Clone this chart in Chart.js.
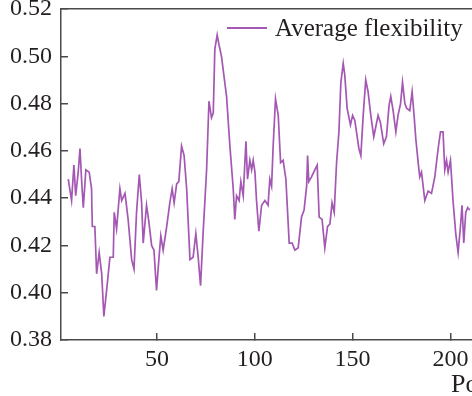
<!DOCTYPE html>
<html>
<head>
<meta charset="utf-8">
<script src="https://cdn.jsdelivr.net/npm/chart.js@4/dist/chart.umd.min.js"></script>
<style>
  html, body { margin: 0; padding: 0; background: #fff; overflow: hidden; }
  canvas { display: block; }
</style>
</head>
<body>
<canvas id="flexChart" width="472" height="396"></canvas>
<script>
const seriesLabel = "Average flexibility";

const positions = [
    4.7, 6.4, 7.6, 8.5, 9.8, 10.7, 11.5, 12.4, 13.7, 15.4,
    16.6, 17.0, 18.3, 19.2, 20.5, 21.8, 22.9, 24.3, 26.0, 27.7,
    28.2, 29.4, 31.1, 32.0, 33.7, 35.3, 37.1, 38.3, 39.6, 41.0,
    42.2, 43.0, 44.7, 45.9, 47.3, 48.5, 49.8, 51.0, 52.0, 53.2,
    55.0, 56.6, 57.8, 58.8, 60.1, 61.2, 62.6, 63.9, 65.2, 66.9,
    68.5, 69.9, 71.1, 72.3, 73.6, 75.4, 76.6, 77.9, 78.8, 79.6,
    80.8, 81.7, 83.0, 85.6, 87.3, 89.0, 89.8, 90.7, 92.0, 92.9,
    94.1, 95.5, 96.3, 97.5, 98.4, 99.2, 100.1, 100.9, 102.1, 103.5,
    105.2, 106.8, 107.7, 108.6, 109.4, 110.6, 112.0, 113.2, 114.5, 115.9,
    117.6, 119.1, 120.5, 122.2, 123.9, 125.2, 126.5, 127.0, 127.6, 129.0,
    130.7, 131.9, 132.9, 134.4, 135.8, 137.2, 138.4, 139.5, 140.6, 141.8,
    143.0, 144.0, 145.2, 146.0, 147.2, 148.9, 150.0, 151.1, 153.2, 154.2,
    155.4, 156.7, 157.9, 159.3, 160.8, 161.8, 163.0, 164.2, 165.9, 167.3,
    168.6, 169.5, 170.7, 172.1, 173.2, 174.5, 175.5, 176.7, 177.6, 179.2,
    180.4, 181.4, 182.3, 183.5, 184.3, 185.2, 186.9, 188.6, 190.3, 192.0,
    193.7, 194.9, 196.2, 197.1, 198.0, 198.8, 200.0, 201.3, 202.7, 203.9,
    205.1, 205.9, 206.8, 207.8, 208.8, 209.9
];

const flexibility = [
    0.448, 0.439, 0.454, 0.441, 0.451, 0.461, 0.448, 0.436, 0.452, 0.451,
    0.444, 0.428, 0.428, 0.408, 0.417, 0.408, 0.390, 0.401, 0.415, 0.415,
    0.434, 0.427, 0.444, 0.439, 0.442, 0.431, 0.414, 0.410, 0.434, 0.450,
    0.438, 0.421, 0.437, 0.430, 0.420, 0.418, 0.401, 0.414, 0.424, 0.418,
    0.428, 0.438, 0.444, 0.438, 0.446, 0.447, 0.462, 0.458, 0.444, 0.414,
    0.415, 0.425, 0.415, 0.403, 0.425, 0.452, 0.481, 0.474, 0.476, 0.503,
    0.509, 0.505, 0.500, 0.483, 0.462, 0.444, 0.431, 0.441, 0.439, 0.447,
    0.441, 0.464, 0.448, 0.456, 0.452, 0.456, 0.451, 0.439, 0.426, 0.437,
    0.439, 0.437, 0.448, 0.445, 0.462, 0.482, 0.475, 0.455, 0.456, 0.448,
    0.421, 0.421, 0.418, 0.419, 0.432, 0.435, 0.445, 0.458, 0.447, 0.449,
    0.452, 0.454, 0.432, 0.431, 0.419, 0.428, 0.429, 0.438, 0.434, 0.455,
    0.468, 0.489, 0.497, 0.492, 0.478, 0.471, 0.475, 0.473, 0.461, 0.458,
    0.475, 0.490, 0.485, 0.475, 0.466, 0.470, 0.475, 0.472, 0.463, 0.466,
    0.479, 0.483, 0.477, 0.468, 0.475, 0.480, 0.489, 0.480, 0.478, 0.477,
    0.485, 0.475, 0.465, 0.455, 0.449, 0.451, 0.439, 0.443, 0.442, 0.449,
    0.461, 0.468, 0.468, 0.452, 0.456, 0.451, 0.456, 0.439, 0.425, 0.417,
    0.428, 0.437, 0.421, 0.434, 0.436, 0.435
];

const xTicks = [50, 100, 150, 200];
const yTicks = [0.38, 0.40, 0.42, 0.44, 0.46, 0.48, 0.50, 0.52];
const xTitle = "Position";

const lineColor = "#a457b3";
const inkColor = "#231f20";
const axisColor = "#4a4a4a";
const serif = "'Liberation Serif', 'Times New Roman', serif";

// legend sits inside the plot, and the axis title is cut off by the right edge
const insideLegend = {
    id: "insideLegend",
    afterDraw(chart) {
        const { ctx, chartArea } = chart;
        const ds = chart.data.datasets[0];
        const x0 = chartArea.left + 166;
        ctx.save();
        ctx.strokeStyle = ds.borderColor;
        ctx.lineWidth = 2;
        ctx.beginPath();
        ctx.moveTo(x0, chartArea.top + 19);
        ctx.lineTo(x0 + 40, chartArea.top + 19);
        ctx.stroke();
        ctx.fillStyle = inkColor;
        ctx.textBaseline = "alphabetic";
        ctx.font = "25px " + serif;
        ctx.fillText(ds.label, x0 + 48, chartArea.top + 27);
        ctx.font = "26px " + serif;
        ctx.fillText(xTitle, chartArea.right - 21, chart.height - 4);
        ctx.restore();
    },
};

new Chart(document.getElementById("flexChart"), {
    type: "line",
    data: {
        datasets: [
            {
                label: seriesLabel,
                data: positions.map((p, i) => ({ x: p, y: flexibility[i] })),
                borderColor: lineColor,
                borderWidth: 1.7,
                pointRadius: 0,
                tension: 0,
                fill: false,
            },
        ],
    },
    options: {
        responsive: false,
        animation: false,
        layout: { padding: { top: 9, right: 0, left: 0, bottom: 0 } },
        plugins: {
            legend: { display: false },
            tooltip: { enabled: false },
        },
        scales: {
            x: {
                type: "linear",
                min: 1,
                max: 211,
                afterBuildTicks: (s) => { s.ticks = xTicks.map((v) => ({ value: v })); },
                afterFit: (s) => { s.height = 56; s.paddingLeft = 0; s.paddingRight = 0; },
                grid: { drawOnChartArea: false, tickLength: -7, color: axisColor, lineWidth: 1.5 },
                border: { color: axisColor, width: 1.5 },
                ticks: {
                    padding: 12,
                    maxRotation: 0,
                    color: inkColor,
                    font: { family: serif, size: 24 },
                },
            },
            x2: {
                type: "linear",
                position: "top",
                min: 1,
                max: 211,
                afterFit: (s) => { s.height = 0; s.paddingLeft = 0; s.paddingRight = 0; },
                grid: { drawOnChartArea: false, drawTicks: false },
                border: { color: axisColor, width: 1.5 },
                ticks: { display: false },
            },
            y: {
                min: 0.38,
                max: 0.52,
                afterBuildTicks: (s) => { s.ticks = yTicks.map((v) => ({ value: v })); },
                afterFit: (s) => { s.width = 61; s.paddingTop = 0; s.paddingBottom = 0; },
                grid: { drawOnChartArea: false, tickLength: -7, color: axisColor, lineWidth: 1.5 },
                border: { color: axisColor, width: 1.5 },
                ticks: {
                    padding: 16,
                    color: inkColor,
                    font: { family: serif, size: 24 },
                    callback: (v) => Number(v).toFixed(2),
                },
            },
        },
    },
    plugins: [insideLegend],
});
</script>
</body>
</html>
